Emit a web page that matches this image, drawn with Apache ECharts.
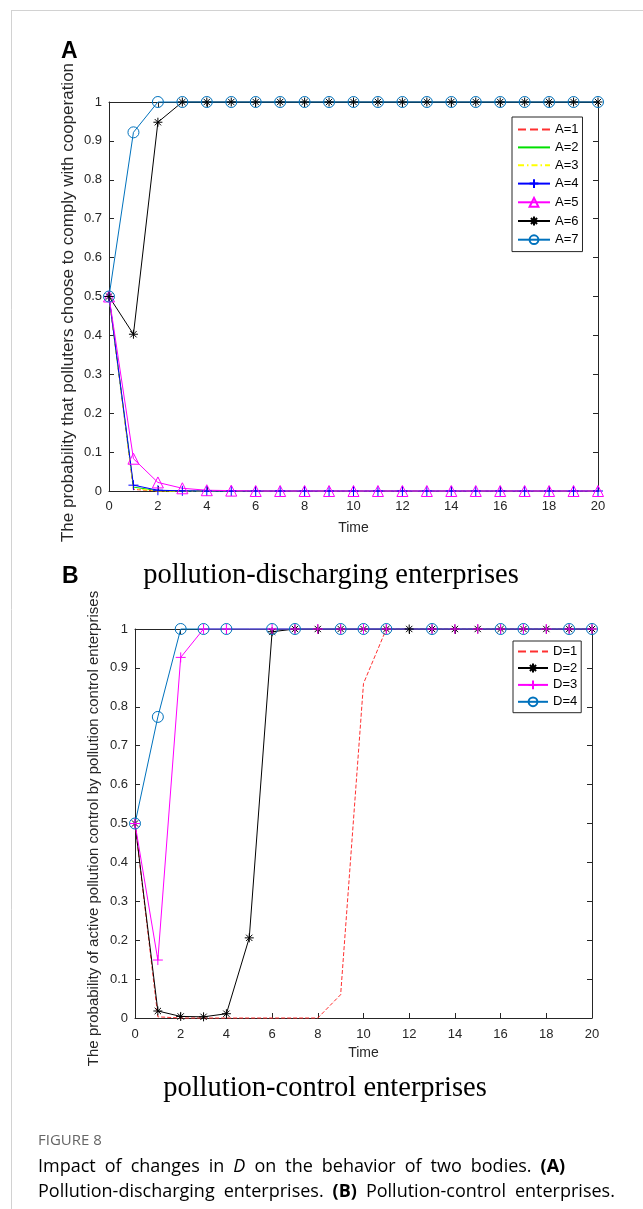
<!DOCTYPE html>
<html>
<head>
<meta charset="utf-8">
<script src="https://cdn.jsdelivr.net/npm/echarts@6/dist/echarts.min.js"></script>
<style>
  html, body { margin: 0; padding: 0; background: #fff; }
  #chart { width: 643px; height: 1209px; }
</style>
</head>
<body>
<div id="chart"></div>
<script>
// ---------------- data ----------------
const time = [0,1,2,3,4,5,6,7,8,9,10,11,12,13,14,15,16,17,18,19,20];
const xTicks = [0,2,4,6,8,10,12,14,16,18,20];
const yTicks = [0,0.1,0.2,0.3,0.4,0.5,0.6,0.7,0.8,0.9,1];

// Panel A: pollution-discharging enterprises
const namesA = ['A=1','A=2','A=3','A=4','A=5','A=6','A=7'];
const a1 = [0.5,0.004,0,0,0,0,0,0,0,0,0,0,0,0,0,0,0,0,0,0,0];
const a2 = [0.5,0.010,0.001,0,0,0,0,0,0,0,0,0,0,0,0,0,0,0,0,0,0];
const a3 = [0.5,0.006,0,0,0,0,0,0,0,0,0,0,0,0,0,0,0,0,0,0,0];
const a4 = [0.5,0.015,0.002,0.0005,0,0,0,0,0,0,0,0,0,0,0,0,0,0,0,0,0];
const a5 = [0.5,0.083,0.022,0.007,0.002,0.001,0,0,0,0,0,0,0,0,0,0,0,0,0,0,0];
const a6 = [0.5,0.403,0.948,1,1,1,1,1,1,1,1,1,1,1,1,1,1,1,1,1,1];
const a7 = [0.5,0.922,1,1,1,1,1,1,1,1,1,1,1,1,1,1,1,1,1,1,1];

// Panel B: pollution-control enterprises
const namesB = ['D=1','D=2','D=3','D=4'];
const d1 = [0.5,0.003,0,0,0,0,0,0,0,0.06,0.86,1,1,1,1,1,1,1,1,1,1];
const d2 = [0.5,0.018,0.004,0.003,0.011,0.206,0.993,1,1,1,1,1,1,1,1,1,1,1,1,1,1];
const d3 = [0.5,0.149,0.927,1,1,1,1,1,1,1,1,1,1,1,1,1,1,1,1,1,1];
const d4 = [0.5,0.774,1,1,1,1,1,1,1,1,1,1,1,1,1,1,1,1,1,1,1];
const d3NoMarker = [5,12];
const d4NoMarker = [5,8,12,14,15,18];

// ---------------- styling helpers ----------------
const SANS = 'Liberation Sans, Arial, sans-serif';
const SERIF = 'Liberation Serif, Times New Roman, serif';
const CAP = 'Open Sans, sans-serif';
const AX = '#262626';
const PLUS = 'path://M0,5L10,5M5,0L5,10';
const STAR = 'path://M0,5L10,5M5,0L5,10M1.5,1.5L8.5,8.5M1.5,8.5L8.5,1.5';
const MBLUE = '#0072BD';

function pairs(vals, hide) {
  return time.map((t, i) => {
    const item = { value: [t, vals[i]] };
    if (hide && hide.indexOf(t) >= 0) item.symbol = 'none';
    return item;
  });
}
function mk(name, vals, grid, color, lineType, symbol, size, hide) {
  return {
    name, type: 'line', xAxisIndex: grid * 2, yAxisIndex: grid * 2,
    data: pairs(vals, hide),
    symbol: symbol || 'none', showSymbol: !!symbol, symbolSize: size || 8,
    clip: false, animation: false, silent: true,
    lineStyle: { color, width: 1, type: lineType || 'solid' },
    itemStyle: { color: 'none', borderColor: color, borderWidth: 1 },
    emphasis: { disabled: true }
  };
}

const xMin = xTicks[0], xMax = xTicks[xTicks.length - 1], xInt = xTicks[1] - xTicks[0];
const yMin = yTicks[0], yMax = yTicks[yTicks.length - 1], yInt = +(yTicks[1] - yTicks[0]).toFixed(2);

function xAxes(g, nameGap, labelMargin) {
  const base = {
    gridIndex: g, type: 'value', min: xMin, max: xMax, interval: xInt,
    axisLine: { show: true, onZero: false, lineStyle: { color: AX, width: 1 } },
    axisTick: { show: true, inside: true, length: 5, lineStyle: { color: AX } },
    splitLine: { show: false }
  };
  return [
    Object.assign({}, base, {
      position: 'bottom',
      axisLabel: { color: AX, fontSize: 13, fontFamily: SANS, margin: labelMargin },
      name: 'Time', nameLocation: 'middle', nameGap, nameMoveOverlap: false,
      nameTextStyle: { color: AX, fontSize: 14, fontFamily: SANS }
    }),
    Object.assign({}, base, { position: 'top', axisLabel: { show: false } })
  ];
}
function yAxes(g, name, nameGap, nameSize, shift) {
  const base = {
    gridIndex: g, type: 'value', min: yMin, max: yMax, interval: yInt,
    axisLine: { show: true, onZero: false, lineStyle: { color: AX, width: 1 } },
    axisTick: { show: true, inside: true, length: 5, lineStyle: { color: AX } },
    splitLine: { show: false }
  };
  return [
    Object.assign({}, base, {
      position: 'left',
      axisLabel: { color: AX, fontSize: 13, fontFamily: SANS, margin: 7,
        formatter: v => String(Math.round(v * 10) / 10) },
      name, nameLocation: 'middle', nameGap, nameMoveOverlap: false,
      nameTextStyle: { color: AX, fontSize: nameSize, fontFamily: SANS, padding: [0, shift, 0, 0] }
    }),
    Object.assign({}, base, { position: 'right', axisLabel: { show: false } })
  ];
}

const series = [
  mk(namesA[0], a1, 0, '#ff3030', 'dashed'),
  mk(namesA[1], a2, 0, '#00e000'),
  mk(namesA[2], a3, 0, '#ffff00', [6, 3, 1.5, 3]),
  mk(namesA[3], a4, 0, '#0000ff', 'solid', PLUS, 10),
  mk(namesA[4], a5, 0, '#ff00ff', 'solid', 'triangle', 11),
  mk(namesA[5], a6, 0, '#000000', 'solid', STAR, 9),
  mk(namesA[6], a7, 0, MBLUE, 'solid', 'circle', 11),
  mk(namesB[0], d1, 1, '#ff3030', 'dashed'),
  mk(namesB[1], d2, 1, '#000000', 'solid', STAR, 9),
  mk(namesB[2], d3, 1, '#ff00ff', 'solid', PLUS, 10, d3NoMarker),
  mk(namesB[3], d4, 1, MBLUE, 'solid', 'circle', 11, d4NoMarker)
];

// legend entries: series without markers show only their line
function legendData(names) {
  return names.map(n => {
    const s = series.find(x => x.name === n);
    if (s.symbol === 'none') {
      return { name: n, itemStyle: { color: 'rgba(0,0,0,0)', borderColor: 'rgba(0,0,0,0)', borderWidth: 0 } };
    }
    return { name: n };
  });
}

const legendBase = {
  orient: 'vertical', borderColor: AX, borderWidth: 1, borderRadius: 0,
  backgroundColor: '#fff', selectedMode: false,
  textStyle: { color: '#000', fontSize: 13, fontFamily: SANS }
};

const CAPC = '#6e6e6e';
const captionRich = {
  n: { fontSize: 18, fontFamily: CAP, color: CAPC },
  i: { fontSize: 18, fontFamily: CAP, fontStyle: 'italic', color: CAPC },
  b: { fontSize: 18, fontFamily: CAP, fontWeight: 'bold', color: CAPC }
};
const SP = '\u2002';
function capLine(parts) {
  return parts.map(p => '{' + p[0] + '|' + p[1].split(' ').join(SP) + '}').join('');
}

const option = {
  animation: false,
  backgroundColor: '#fff',
  grid: [
    { left: 109, top: 102, width: 489, height: 389, containLabel: false },
    { left: 135, top: 629, width: 457, height: 389, containLabel: false }
  ],
  xAxis: [].concat(xAxes(0, 30, 9), xAxes(1, 28, 10)),
  yAxis: [].concat(
    yAxes(0, 'The probability that polluters choose to comply with cooperation', 32, 17, 12),
    yAxes(1, 'The probability of active pollution control by pollution control enterprises', 34, 15, 10)
  ),
  legend: [
    Object.assign({}, legendBase, {
      data: legendData(namesA), left: 512, top: 117, itemWidth: 32, itemHeight: 11, itemGap: 4.9,
      padding: [6, 4, 5, 5]
    }),
    Object.assign({}, legendBase, {
      data: legendData(namesB), left: 513, top: 641, itemWidth: 30, itemHeight: 11, itemGap: 3.1,
      padding: [4, 4, 4, 4]
    })
  ],
  series,
  graphic: [
    { type: 'line', shape: { x1: 11, y1: 10.5, x2: 643, y2: 10.5 }, style: { stroke: '#d2d2d2', lineWidth: 1 }, silent: true },
    { type: 'line', shape: { x1: 11.5, y1: 10, x2: 11.5, y2: 1209 }, style: { stroke: '#d2d2d2', lineWidth: 1 }, silent: true },
    { type: 'text', left: 61, top: 40, style: { text: 'A', font: 'bold 23px ' + SANS, fill: '#000' } },
    { type: 'text', left: 62, top: 565, style: { text: 'B', font: 'bold 23px ' + SANS, fill: '#000' } },
    { type: 'text', x: 331, y: 576, style: { text: 'pollution-discharging enterprises', font: '28.5px ' + SERIF, fill: '#000', textAlign: 'center', textVerticalAlign: 'middle' } },
    { type: 'text', x: 325, y: 1089, style: { text: 'pollution-control enterprises', font: '28.5px ' + SERIF, fill: '#000', textAlign: 'center', textVerticalAlign: 'middle' } },
    { type: 'text', x: 38, y: 1141, style: { text: 'FIGURE 8', font: '15px ' + CAP, fill: '#666', textVerticalAlign: 'middle' } },
    { type: 'text', x: 38, y: 1167, style: { text: capLine([['n','Impact of changes in '],['i','D'],['n',' on the behavior of two bodies. '],['b','(A)']]), rich: captionRich, textVerticalAlign: 'middle' } },
    { type: 'text', x: 38, y: 1192, style: { text: capLine([['n','Pollution-discharging enterprises. '],['b','(B)'],['n',' Pollution-control enterprises.']]), rich: captionRich, textVerticalAlign: 'middle' } }
  ]
};

const chart = echarts.init(document.getElementById('chart'), null, { renderer: 'canvas' });
chart.setOption(option);
</script>
</body>
</html>
